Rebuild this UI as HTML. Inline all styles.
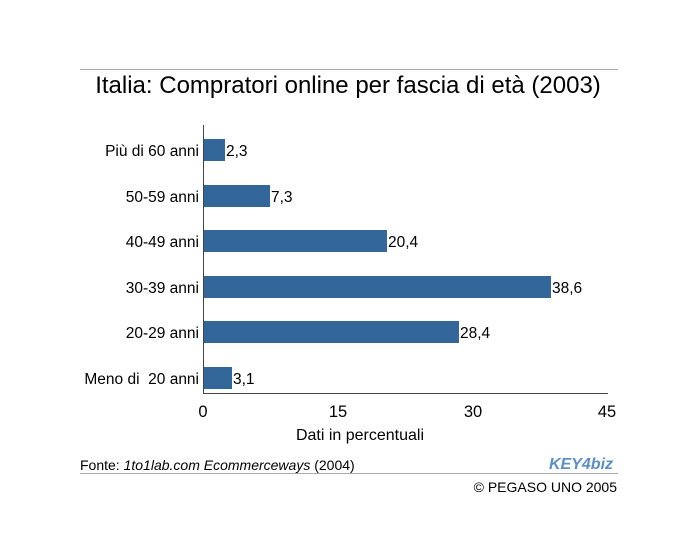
<!DOCTYPE html>
<html><head><meta charset="utf-8"><style>
body{margin:0;background:#fff;}
svg text{font-family:"Liberation Sans",sans-serif;fill:#000;}
</style></head><body>
<svg width="700" height="550" xmlns="http://www.w3.org/2000/svg">
<line x1="80" y1="69.5" x2="618" y2="69.5" stroke="#aaa"/>
<text x="348" y="93" font-size="24" text-anchor="middle">Italia: Compratori online per fascia di età (2003)</text>
<line x1="203.5" y1="125" x2="203.5" y2="393" stroke="#444"/>
<line x1="203" y1="393.5" x2="608" y2="393.5" stroke="#444"/>
<g fill="#336699">
<rect x="204" y="139" width="21" height="22"/>
<rect x="204" y="185" width="66" height="22"/>
<rect x="204" y="230" width="183" height="22"/>
<rect x="204" y="276" width="347" height="22"/>
<rect x="204" y="321" width="255" height="22"/>
<rect x="204" y="367" width="28" height="22"/>
</g>
<g font-size="15.5">
<text x="226" y="156">2,3</text>
<text x="271" y="202">7,3</text>
<text x="388" y="247">20,4</text>
<text x="552" y="293">38,6</text>
<text x="460" y="338">28,4</text>
<text x="233" y="384">3,1</text>
</g>
<g font-size="15.5" text-anchor="end">
<text x="199" y="156">Più di 60 anni</text>
<text x="199" y="202">50-59 anni</text>
<text x="199" y="247">40-49 anni</text>
<text x="199" y="293">30-39 anni</text>
<text x="199" y="338">20-29 anni</text>
<text x="199" y="384">Meno di&#160; 20 anni</text>
</g>
<g font-size="16.5" text-anchor="middle">
<text x="203" y="417">0</text>
<text x="338" y="417">15</text>
<text x="473" y="417">30</text>
<text x="607" y="417">45</text>
</g>
<text x="360" y="440" font-size="16" text-anchor="middle">Dati in percentuali</text>
<text x="80" y="470" font-size="14">Fonte: <tspan font-style="italic">1to1lab.com Ecommerceways</tspan> (2004)</text>
<text x="549" y="469" font-size="16" font-weight="bold" font-style="italic" style="fill:#5a8fc8">KEY4biz</text>
<line x1="80" y1="473.5" x2="618" y2="473.5" stroke="#aaa"/>
<text x="617" y="492" font-size="14" text-anchor="end">© PEGASO UNO 2005</text>
</svg>
</body></html>
